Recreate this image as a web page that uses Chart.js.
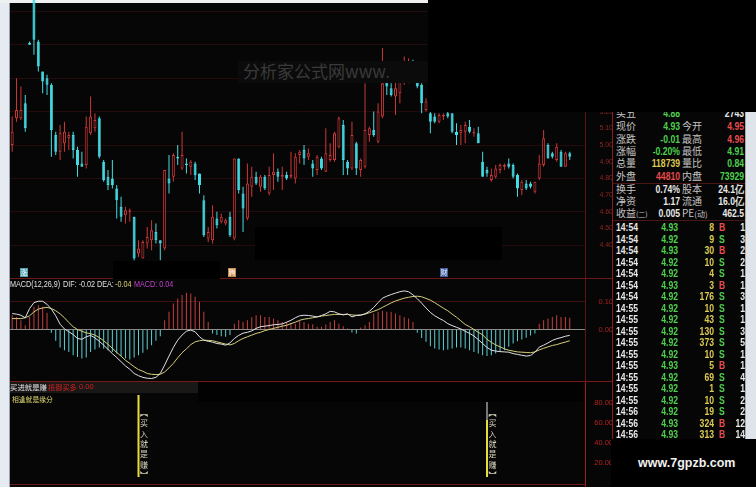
<!DOCTYPE html>
<html>
<head>
<meta charset="utf-8">
<title>K线 MACD</title>
<script src="https://cdn.jsdelivr.net/npm/chart.js@4.4.1/dist/chart.umd.min.js"></script>
<style>
  html, body { margin: 0; padding: 0; background: #000; }
  #wrap { position: relative; width: 756px; height: 487px; overflow: hidden; background: #070606; font-family: "Noto Sans CJK SC", sans-serif; }
  #wrap canvas { position: absolute; display: block; }
  .box { position: absolute; }
  .t { position: absolute; white-space: nowrap; }
  .num { font-family: "Liberation Sans", sans-serif; font-weight: bold; font-size: 10.5px; }
  .lab { font-family: "Noto Sans CJK SC", sans-serif; font-size: 10px; color: #c4c4c4; }
  .sl { transform: scaleX(0.82); transform-origin: left center; }
  .sr { transform: scaleX(0.82); transform-origin: right center; }
  .mt { font: 8.5px "Liberation Sans", sans-serif; line-height: 10px; transform: scaleX(0.85); transform-origin: left center; }
  .g { color: #4ed04e; } .r { color: #e84c4c; } .y { color: #dccb52; } .w { color: #e8e8e8; }
  .ico { position: absolute; width: 8px; height: 9px; font-size: 7px; line-height: 9px; text-align: center; color: #fff; }
</style>
</head>
<body>
<div id="wrap">
  <!-- frame strips -->
  <div class="box" style="left:0;top:0;width:9px;height:487px;background:#e6ebf1;border-right:1px solid #9aa3ad;"></div>
  <div class="box" style="left:0;top:0;width:428px;height:3px;background:#eef0f2;"></div>
  <div class="box" style="left:745px;top:0;width:11px;height:487px;background:#dfe4ea;border-left:1px solid #a3abb5;"></div>

  <canvas id="kline" width="603" height="278" style="left:10px;top:0;"></canvas>
  <canvas id="macd" width="603" height="104" style="left:10px;top:278px;"></canvas>
  <canvas id="sig" width="603" height="105" style="left:10px;top:382px;"></canvas>

  <!-- panel borders -->
  <div class="box" style="left:10px;top:278px;width:603px;height:1px;background:#6e1717;"></div>
  <div class="box" style="left:10px;top:381px;width:603px;height:1px;background:#7a1818;"></div>
  <div class="box" style="left:10px;top:484px;width:575px;height:1px;background:#6e1717;"></div>
  <div class="box" style="left:612px;top:0;width:1px;height:487px;background:#8c1c1c;"></div>

  <!-- info marks -->
  <div class="ico" style="left:20px;top:268px;background:#4f9fae;">涨</div>
  <div class="ico" style="left:228px;top:268px;background:#c58a48;">腾</div>
  <div class="ico" style="left:440px;top:268px;background:#3d5c9c;">财</div>

  <!-- MACD title -->
  <div class="t mt" style="left:10px;top:279px;color:#e0e0e0;">MACD(12,26,9)</div>
  <div class="t mt" style="left:63px;top:279px;color:#e0e0e0;">DIF: -0.02</div>
  <div class="t mt" style="left:97px;top:279px;color:#e0e0e0;">DEA:</div>
  <div class="t mt" style="left:115px;top:279px;color:#d8d070;">-0.04</div>
  <div class="t mt" style="left:134px;top:279px;color:#c040d0;">MACD: 0.04</div>

  <!-- bottom indicator title -->
  <div class="box" style="left:10px;top:382px;width:188px;height:11px;background:#1a1717;"></div>
  <div class="t" style="left:10px;top:382px;font-size:7.4px;line-height:10px;color:#e4e4e4;">买进就是赚</div>
  <div class="t" style="left:48px;top:382px;font-size:7.2px;line-height:10px;color:#d42222;">抵御买多</div>
  <div class="t" style="left:79px;top:382px;font:7.5px 'Liberation Sans',sans-serif;line-height:10px;color:#d42222;">0.00</div>
  <div class="t" style="left:12px;top:394px;font-size:6.8px;line-height:10px;color:#e2dc72;">相逢就是缘分</div>

  <div id="quote"></div>

  <!-- cover boxes -->
  <div class="box" style="left:238px;top:61px;width:190px;height:22px;background:#0b0b0b;overflow:hidden;">
    <div class="t" style="left:5px;top:-2px;font-size:17px;line-height:24px;color:#3a3a3a;">分析家公式网www.</div>
  </div>
  <div class="box" style="left:255px;top:227px;width:247px;height:33px;background:#000;"></div>
  <div class="box" style="left:113px;top:261px;width:107px;height:18px;background:#000;"></div>
  <div class="box" style="left:198px;top:382px;width:385px;height:20px;background:#020202;"></div>
  <div class="box" style="left:428px;top:0;width:328px;height:112px;background:#000;"></div>
  <div class="box" style="left:611px;top:439px;width:145px;height:48px;background:#000;">
    <div class="t" style="left:27px;top:17px;font:bold 12.5px 'Liberation Sans',sans-serif;color:#f0f0f0;">www.7gpzb.com</div>
  </div>
</div>

<script>
// ---- price data (one entry per trading day) ----
var open = [5.00,5.16,5.16,5.25,5.61,5.92,5.62,5.44,5.40,5.36,
  5.06,4.96,5.01,5.04,5.06,4.97,4.89,4.88,5.07,5.10,
  5.16,4.90,4.81,4.80,4.74,4.63,4.58,4.60,4.57,4.35,
  4.32,4.41,4.43,4.48,4.43,4.38,4.80,4.81,4.93,4.86,
  4.89,4.87,4.89,4.83,4.67,4.44,4.43,4.56,4.54,4.53,
  4.57,4.44,4.92,4.71,4.56,4.75,4.81,4.75,4.81,4.71,
  4.82,4.84,4.81,4.82,4.81,4.80,4.94,4.97,4.93,4.89,
  4.85,4.92,4.84,4.91,4.91,4.99,5.12,4.90,4.86,5.01,
  4.85,4.87,5.06,5.09,5.02,5.17,5.39,5.34,5.29,5.31,
  5.38,5.39,5.48,5.39,5.36,5.21,5.19,5.17,5.14,5.17,
  5.19,5.19,5.08,5.07,5.08,5.11,5.07,5.07,4.90,4.85,
  4.79,4.81,4.85,4.87,4.89,4.88,4.82,4.73,4.77,4.77,
  4.72,4.80,4.88,5.00,4.95,4.91,4.96,4.87,4.95];
var high = [5.17,5.40,5.35,5.30,5.62,5.92,5.63,5.44,5.42,5.37,
  5.08,5.12,5.14,5.08,5.08,4.99,4.96,5.17,5.29,5.19,
  5.17,4.91,4.85,4.91,4.76,4.69,4.63,4.62,4.57,4.43,
  4.43,4.51,4.55,4.53,4.43,4.85,4.94,4.95,5.00,5.08,
  4.92,4.91,4.90,4.83,4.70,4.51,4.64,4.60,4.59,4.56,
  4.60,4.92,4.92,4.75,4.89,4.87,4.84,4.82,4.82,4.87,
  4.95,4.86,4.87,4.84,4.96,4.95,4.97,5.00,4.98,4.91,
  4.94,4.93,5.10,5.01,5.08,5.17,5.15,4.91,5.14,5.02,
  4.92,5.37,5.11,5.20,5.25,5.58,5.41,5.37,5.39,5.41,
  5.53,5.52,5.51,5.49,5.37,5.28,5.22,5.19,5.19,5.19,
  5.20,5.19,5.13,5.12,5.14,5.15,5.10,5.11,4.96,4.87,
  4.86,4.88,4.89,4.89,4.92,4.89,4.83,4.79,4.79,4.78,
  4.78,4.94,5.09,5.01,4.96,5.01,4.97,4.96,4.96];
var low = [4.96,5.14,5.15,5.08,5.60,5.54,5.44,5.31,5.30,4.93,
  4.94,4.91,4.96,4.97,4.92,4.81,4.87,4.86,5.06,5.08,
  4.92,4.78,4.73,4.74,4.56,4.54,4.53,4.54,4.31,4.33,
  4.32,4.38,4.37,4.41,4.31,4.37,4.71,4.78,4.88,4.85,
  4.83,4.82,4.79,4.71,4.45,4.42,4.41,4.50,4.53,4.52,
  4.45,4.43,4.71,4.48,4.55,4.69,4.76,4.72,4.73,4.70,
  4.73,4.78,4.73,4.79,4.80,4.77,4.89,4.88,4.91,4.81,
  4.82,4.85,4.84,4.90,4.90,4.98,4.82,4.82,4.85,4.82,
  4.81,4.86,5.02,5.05,5.01,5.16,5.30,5.29,5.18,5.25,
  5.36,5.37,5.38,5.34,5.19,5.20,5.07,5.13,5.13,5.15,
  5.16,5.07,5.00,5.00,5.01,5.07,5.05,5.01,4.81,4.81,
  4.78,4.80,4.83,4.85,4.86,4.80,4.69,4.70,4.73,4.74,
  4.71,4.79,4.87,4.92,4.92,4.90,4.87,4.87,4.91];
var close = [5.08,5.21,5.21,5.10,5.60,5.63,5.47,5.38,5.36,5.09,
  4.96,5.07,5.08,5.06,4.97,4.88,4.87,5.11,5.17,5.15,
  4.93,4.79,4.76,4.76,4.67,4.57,4.61,4.61,4.32,4.38,
  4.42,4.45,4.49,4.43,4.41,4.85,4.77,4.94,4.92,4.94,
  4.88,4.90,4.82,4.76,4.46,4.48,4.57,4.52,4.57,4.55,
  4.46,4.92,4.73,4.62,4.77,4.81,4.77,4.81,4.74,4.82,
  4.84,4.81,4.82,4.80,4.82,4.93,4.96,4.92,4.95,4.86,
  4.93,4.86,4.95,4.94,5.07,5.16,4.91,4.86,5.06,4.86,
  4.91,5.09,5.10,5.06,5.20,5.37,5.35,5.30,5.34,5.39,
  5.50,5.50,5.40,5.35,5.25,5.26,5.14,5.14,5.18,5.18,
  5.17,5.08,5.06,5.09,5.12,5.08,5.08,5.01,4.81,4.83,
  4.82,4.86,4.88,4.88,4.87,4.81,4.74,4.78,4.74,4.75,
  4.78,4.89,5.04,4.92,4.93,4.99,4.87,4.95,4.93];

// ---- MACD(12,26,9) ----
var dif = [0.057,0.055,0.051,0.042,0.075,0.096,0.101,0.101,0.090,0.073,
  0.049,0.019,0.002,-0.008,-0.018,-0.032,-0.035,-0.026,-0.021,-0.030,
  -0.042,-0.056,-0.071,-0.086,-0.100,-0.115,-0.130,-0.142,-0.157,-0.165,
  -0.171,-0.174,-0.175,-0.171,-0.157,-0.127,-0.095,-0.064,-0.038,-0.020,
  -0.006,-0.002,-0.008,-0.026,-0.038,-0.042,-0.045,-0.050,-0.052,-0.056,
  -0.048,-0.032,-0.021,-0.013,-0.010,-0.005,0.004,0.010,0.012,0.014,
  0.017,0.018,0.020,0.026,0.033,0.042,0.049,0.051,0.050,0.048,
  0.045,0.050,0.056,0.065,0.063,0.056,0.052,0.056,0.045,0.050,
  0.051,0.056,0.065,0.079,0.096,0.112,0.119,0.125,0.130,0.135,
  0.138,0.135,0.124,0.110,0.094,0.077,0.061,0.049,0.040,0.032,
  0.021,0.014,0.008,0.002,-0.006,-0.014,-0.023,-0.036,-0.050,-0.064,
  -0.074,-0.077,-0.079,-0.080,-0.081,-0.086,-0.089,-0.092,-0.095,-0.093,
  -0.081,-0.063,-0.056,-0.048,-0.039,-0.033,-0.029,-0.024,-0.021];
var dea = [0.039,0.039,0.039,0.042,0.049,0.063,0.073,0.077,0.079,0.075,
  0.067,0.056,0.042,0.025,0.010,0.000,-0.006,-0.012,-0.015,-0.020,
  -0.029,-0.040,-0.053,-0.067,-0.082,-0.095,-0.110,-0.121,-0.133,-0.143,
  -0.149,-0.157,-0.160,-0.161,-0.160,-0.152,-0.137,-0.121,-0.101,-0.083,
  -0.069,-0.054,-0.044,-0.040,-0.038,-0.039,-0.040,-0.044,-0.048,-0.052,
  -0.055,-0.050,-0.040,-0.032,-0.026,-0.020,-0.014,-0.010,-0.004,0.000,
  0.004,0.008,0.012,0.015,0.021,0.026,0.033,0.037,0.039,0.042,
  0.045,0.048,0.050,0.052,0.054,0.054,0.054,0.054,0.052,0.051,
  0.052,0.055,0.060,0.065,0.071,0.079,0.087,0.095,0.102,0.107,
  0.112,0.115,0.118,0.119,0.117,0.111,0.105,0.096,0.086,0.076,
  0.067,0.055,0.044,0.031,0.018,0.010,0.000,-0.010,-0.019,-0.035,
  -0.046,-0.055,-0.062,-0.069,-0.074,-0.077,-0.080,-0.081,-0.082,-0.083,
  -0.080,-0.073,-0.067,-0.062,-0.057,-0.054,-0.049,-0.045,-0.040];
var macdBar = [0.051,0.045,0.033,0.015,0.045,0.081,0.087,0.081,0.060,-0.012,
  -0.040,-0.064,-0.074,-0.080,-0.092,-0.098,-0.104,-0.100,-0.080,-0.071,
  -0.064,-0.069,-0.074,-0.080,-0.086,-0.095,-0.104,-0.107,-0.100,-0.092,
  -0.083,-0.071,-0.056,-0.040,-0.024,0.033,0.063,0.093,0.111,0.123,
  0.131,0.129,0.117,0.099,0.063,0.027,-0.014,-0.020,-0.024,-0.026,
  -0.020,0.021,0.033,0.027,0.033,0.045,0.051,0.051,0.045,0.045,
  0.039,0.033,0.027,0.027,0.024,0.021,0.031,0.027,0.021,0.019,
  0.010,0.010,0.018,0.027,0.033,0.021,0.012,0.004,-0.011,-0.014,
  0.007,0.015,0.027,0.057,0.063,0.067,0.063,0.063,0.057,0.051,
  0.045,0.039,0.027,-0.012,-0.030,-0.044,-0.060,-0.068,-0.071,-0.074,
  -0.071,-0.068,-0.064,-0.064,-0.068,-0.074,-0.080,-0.086,-0.092,-0.095,
  -0.092,-0.086,-0.080,-0.074,-0.062,-0.050,-0.042,-0.036,-0.029,-0.021,
  -0.014,0.021,0.033,0.039,0.045,0.051,0.045,0.045,0.042];

// ---- "买入就是赚" signal ----
var sigIndex = [29, 109];
var sigLow   = [6, 6];
var sigHigh  = [88, 63];
var sigTop   = [null, 90];

// ---- axis ticks ----
var priceTicks = [5.80,5.70,5.60,5.50,5.40,5.30,5.20,5.10,5.00,4.90,4.80,4.70,4.60,4.50,4.40];
var macdTicks = [0.10, 0.00];
var sigTicks = [80, 60, 40, 20];

// ---- quote panel ----
var quoteRows = [
  ['现价','4.93','g','今开','4.95','r'],
  ['涨跌','-0.01','g','最高','4.96','r'],
  ['涨幅','-0.20%','g','最低','4.91','g'],
  ['总量','118739','y','量比','0.84','g'],
  ['外盘','44810','r','内盘','73929','g'],
  ['换手','0.74%','w','股本','24.1亿','w'],
  ['净资','1.17','w','流通','16.0亿','w'],
  ['收益<span style="font-size:7px">(二)</span>','0.005','w','PE<span style="font-size:8px">(动)</span>','462.5','w']
];
var tradeTime = ['14:54','14:54','14:54','14:54','14:54','14:54','14:54','14:55','14:55','14:55',
  '14:55','14:55','14:55','14:55','14:55','14:55','14:56','14:56','14:56'];
var tradePrice = ['4.93','4.92','4.93','4.92','4.92','4.93','4.92','4.92','4.92','4.92',
  '4.92','4.92','4.93','4.92','4.92','4.92','4.92','4.93','4.93'];
var tradeVol = [8,9,30,10,4,3,176,10,43,130,373,10,5,69,1,10,19,324,313];
var tradeSide = ['B','S','B','S','S','B','S','S','S','S','S','S','B','S','S','S','S','B','B'];
var tradeCnt = [1,3,2,2,1,1,3,1,1,3,5,1,1,4,1,2,2,12,14];

var days = [];
for (var d = 1; d <= 132; d++) days.push(String(d));

var upColor = '#cc3838', dnColor = '#46dce4', bgColor = '#070606';
function isUp(i) { return close[i] >= open[i]; }

function fixedAxis(s) { s.width = 28; s.paddingTop = 0; s.paddingBottom = 0; }
var base = {
  responsive: false, animation: false, events: [],
  layout: { padding: 0 },
  plugins: { legend: { display: false }, tooltip: { enabled: false } }
};

// K-line
new Chart(document.getElementById('kline'), {
  type: 'bar',
  data: {
    labels: days,
    datasets: [{
      label: 'body', order: 0, grouped: false,
      data: open.map(function (o, i) { return [o, close[i]]; }),
      barThickness: 3, borderWidth: 1, borderSkipped: false, minBarLength: 1, inflateAmount: 0,
      backgroundColor: function (c) { return isUp(c.dataIndex) ? bgColor : dnColor; },
      borderColor: function (c) { return isUp(c.dataIndex) ? upColor : dnColor; }
    }, {
      label: 'shadow', order: 1, grouped: false,
      data: low.map(function (l, i) { return [l, high[i]]; }),
      barThickness: 1, borderWidth: 0, inflateAmount: 0,
      backgroundColor: function (c) { return isUp(c.dataIndex) ? upColor : dnColor; }
    }]
  },
  options: Object.assign({}, base, {
    scales: {
      x: { display: false, offset: true },
      y: {
        position: 'right', min: 4.204, max: 5.868,
        afterBuildTicks: function (s) { s.ticks = priceTicks.map(function (v) { return { value: v }; }); },
        afterFit: fixedAxis,
        ticks: { color: '#8e2424', padding: 12, crossAlign: 'far', font: { size: 7, family: 'Liberation Sans' },
          callback: function (v) { return Number(v).toFixed(2); } },
        grid: { drawTicks: false, color: function (c) { return Math.round(c.tick.value * 100) % 20 === 0 ? '#250b0b' : 'rgba(0,0,0,0)'; } },
        border: { display: true, color: '#5c1515' }
      }
    }
  })
});

// MACD
new Chart(document.getElementById('macd'), {
  type: 'bar',
  data: {
    labels: days,
    datasets: [{
      type: 'line', label: 'DIF', order: 0, data: dif,
      borderColor: '#e2e2e6', borderWidth: 1, pointRadius: 0, tension: 0
    }, {
      type: 'line', label: 'DEA', order: 1, data: dea,
      borderColor: '#d6d07a', borderWidth: 1, pointRadius: 0, tension: 0
    }, {
      label: 'MACD', order: 2, data: macdBar, barThickness: 1, inflateAmount: 0,
      backgroundColor: function (c) { return macdBar[c.dataIndex] >= 0 ? '#c24040' : '#5ccfd2'; }
    }]
  },
  options: Object.assign({}, base, {
    scales: {
      x: { display: false, offset: true },
      y: {
        position: 'right', min: -0.1875, max: 0.184,
        afterBuildTicks: function (s) { s.ticks = macdTicks.map(function (v) { return { value: v }; }); },
        afterFit: fixedAxis,
        ticks: { color: '#a42020', padding: 12, crossAlign: 'far', font: { size: 7.5, family: 'Liberation Sans' },
          callback: function (v) { return Number(v).toFixed(2); } },
        grid: { drawTicks: false, color: function (c) { return c.tick.value === 0 ? '#8a8a8a' : '#3e1010'; } },
        border: { display: true, color: '#5c1515' }
      }
    }
  })
});

// bottom signal panel
var sigYellow = days.map(function () { return null; });
var sigWhite = days.map(function () { return null; });
sigIndex.forEach(function (k, j) {
  sigYellow[k] = [sigLow[j], sigHigh[j]];
  if (sigTop[j] !== null) sigWhite[k] = [sigHigh[j], sigTop[j]];
});
var signalText = ['︻','买','入','就','是','赚','︼'];
var sigLabel = {
  id: 'sigLabel',
  afterDatasetsDraw: function (chart) {
    var ctx = chart.ctx, xs = chart.scales.x, ys = chart.scales.y;
    ctx.save();
    ctx.font = '8px "Noto Sans CJK SC"';
    ctx.fillStyle = '#d6d4bc';
    ctx.textAlign = 'center';
    ctx.textBaseline = 'middle';
    sigIndex.forEach(function (k) {
      var x = xs.getPixelForValue(k) + 5.5;
      var y = ys.getPixelForValue(70);
      signalText.forEach(function (ch) { ctx.fillText(ch, x, y); y += 10.3; });
    });
    ctx.restore();
  }
};
new Chart(document.getElementById('sig'), {
  type: 'bar',
  data: {
    labels: days,
    datasets: [{
      label: 'buy', order: 0, grouped: false, data: sigYellow,
      barThickness: 2, inflateAmount: 0, backgroundColor: '#e6de3c'
    }, {
      label: 'buyTop', order: 1, grouped: false, data: sigWhite,
      barThickness: 1, inflateAmount: 0, backgroundColor: '#e8e8e8'
    }]
  },
  options: Object.assign({}, base, {
    scales: {
      x: { display: false, offset: true },
      y: {
        position: 'right', min: -4, max: 101,
        afterBuildTicks: function (s) { s.ticks = sigTicks.map(function (v) { return { value: v }; }); },
        afterFit: fixedAxis,
        ticks: { color: '#b22222', padding: 10, crossAlign: 'far', font: { size: 7.5, family: 'Liberation Sans' },
          callback: function (v) { return Number(v).toFixed(2); } },
        grid: { display: false },
        border: { display: true, color: '#a01c1c' }
      }
    }
  }),
  plugins: [sigLabel]
});

// quote panel text
var q = document.getElementById('quote');
var html = '';
function cell(left, top, w, align, cls, txt) {
  var sc = cls.indexOf('num') === 0 ? (align === 'right' ? ' sr' : ' sl') : '';
  return '<div class="t ' + cls + sc + '" style="left:' + left + 'px;top:' + top + 'px;width:' + w +
    'px;text-align:' + align + ';height:12px;line-height:12px;">' + txt + '</div>';
}
html += cell(616, 107, 30, 'left', 'lab', '买五');
html += cell(640, 107, 40, 'right', 'num g', '4.88');
html += cell(700, 107, 44, 'right', 'num w', '2743');
quoteRows.forEach(function (r, i) {
  var top = [120, 133, 145, 157, 170, 183, 195, 207][i];
  html += cell(616, top, 40, 'left', 'lab', r[0]);
  html += cell(636, top, 44, 'right', 'num ' + r[2], r[1]);
  html += cell(682, top, 40, 'left', 'lab', r[3]);
  html += cell(700, top, 44, 'right', 'num ' + r[5], r[4]);
});
html += '<div class="box" style="left:613px;top:183px;width:132px;height:1px;background:#4a1616;"></div>';
html += '<div class="box" style="left:613px;top:220px;width:132px;height:1px;background:#4a1616;"></div>';
tradeTime.forEach(function (t, i) {
  var top = Math.round(221 + i * 11.5);
  html += cell(616, top, 30, 'left', 'num w', t);
  html += cell(648, top, 30, 'right', 'num g', tradePrice[i]);
  html += cell(684, top, 30, 'right', 'num y', String(tradeVol[i]));
  html += cell(719, top, 8, 'left', 'num ' + (tradeSide[i] === 'B' ? 'r' : 'g'), tradeSide[i]);
  html += cell(728, top, 17, 'right', 'num w', String(tradeCnt[i]));
});
q.innerHTML = html;
</script>
</body>
</html>
